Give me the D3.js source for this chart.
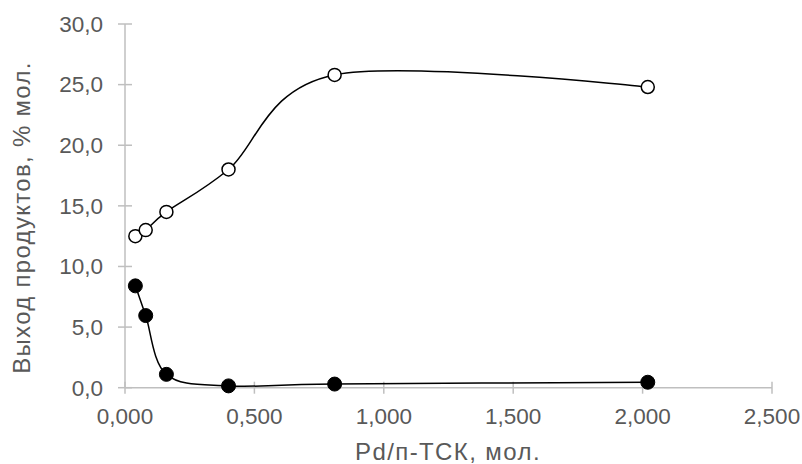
<!DOCTYPE html>
<html><head><meta charset="utf-8">
<script src="https://cdn.jsdelivr.net/npm/d3@7"></script>
<style>body{margin:0;background:#fff}svg{display:block}text{font-family:"Liberation Sans",Arial,sans-serif;fill:#595959}</style>
</head><body>
<script>
const xValues = [0.04, 0.08, 0.16, 0.40, 0.81, 2.02];
const openSeries = [12.5, 13.0, 14.5, 18.0, 25.8, 24.8];
const filledSeries = [8.4, 5.95, 1.1, 0.15, 0.3, 0.45];
const xTicks = [0, 0.5, 1.0, 1.5, 2.0, 2.5];
const yTicks = [0, 5, 10, 15, 20, 25, 30];
const xTitle = "Pd/п-ТСК, мол.";
const yTitle = "Выход продуктов, % мол.";

const W = 802, H = 464;
const svg = d3.select("body").append("svg").attr("width", W).attr("height", H);
const x = d3.scaleLinear().domain([0, 2.5]).range([125, 772]);
const y = d3.scaleLinear().domain([0, 30]).range([387.7, 24]);
const fmtX = v => d3.format(".3f")(v).replace(".", ",");
const fmtY = v => d3.format(".1f")(v).replace(".", ",");
const axisColor = "#bfbfbf";
const fs = 22.5;
const fsTitle = 24;

// y axis
const gy = svg.append("g");
gy.append("line").attr("x1", x(0)).attr("x2", x(0)).attr("y1", y(0)).attr("y2", y(30))
  .attr("stroke", axisColor).attr("stroke-width", 1.5);
yTicks.forEach(t => {
  gy.append("line").attr("x1", x(0) - 7).attr("x2", x(0) + 7).attr("y1", y(t)).attr("y2", y(t))
    .attr("stroke", axisColor).attr("stroke-width", 1.5);
  gy.append("text").attr("x", 103).attr("y", y(t)).attr("dy", "0.35em")
    .attr("text-anchor", "end").style("font-size", fs + "px").text(fmtY(t));
});
// x axis
const gx = svg.append("g");
gx.append("line").attr("x1", x(0)).attr("x2", x(2.5)).attr("y1", y(0)).attr("y2", y(0))
  .attr("stroke", axisColor).attr("stroke-width", 1.5);
xTicks.forEach(t => {
  gx.append("line").attr("x1", x(t)).attr("x2", x(t)).attr("y1", y(0) - 6).attr("y2", y(0) + 6)
    .attr("stroke", axisColor).attr("stroke-width", 1.5);
  gx.append("text").attr("x", x(t)).attr("y", 424).attr("text-anchor", "middle")
    .style("font-size", fs + "px").text(fmtX(t));
});
svg.append("text").attr("x", 448).attr("y", 460).attr("text-anchor", "middle")
  .style("font-size", fsTitle + "px").style("letter-spacing", "1.4px").text(xTitle);
svg.append("text").attr("transform", "translate(30," + ((62 + 373) / 2) + ") rotate(-90)")
  .attr("text-anchor", "middle").style("font-size", fsTitle + "px").style("letter-spacing", "1.3px").text(yTitle);

const line = d3.line().x(d => x(d[0])).y(d => y(d[1])).curve(d3.curveCardinal.tension(0));
const openPts = xValues.map((v, i) => [v, openSeries[i]]);
const filledPts = xValues.map((v, i) => [v, filledSeries[i]]);

svg.append("path").attr("d", line(openPts)).attr("fill", "none").attr("stroke", "#000").attr("stroke-width", 1.5);
svg.append("path").attr("d", line(filledPts)).attr("fill", "none").attr("stroke", "#000").attr("stroke-width", 1.5);

svg.append("g").selectAll("circle").data(openPts).join("circle")
  .attr("cx", d => x(d[0])).attr("cy", d => y(d[1])).attr("r", 6.5)
  .attr("fill", "#fff").attr("stroke", "#000").attr("stroke-width", 1.5);
svg.append("g").selectAll("circle").data(filledPts).join("circle")
  .attr("cx", d => x(d[0])).attr("cy", d => y(d[1])).attr("r", 7)
  .attr("fill", "#000").attr("stroke", "#000").attr("stroke-width", 1);
</script>
</body></html>
